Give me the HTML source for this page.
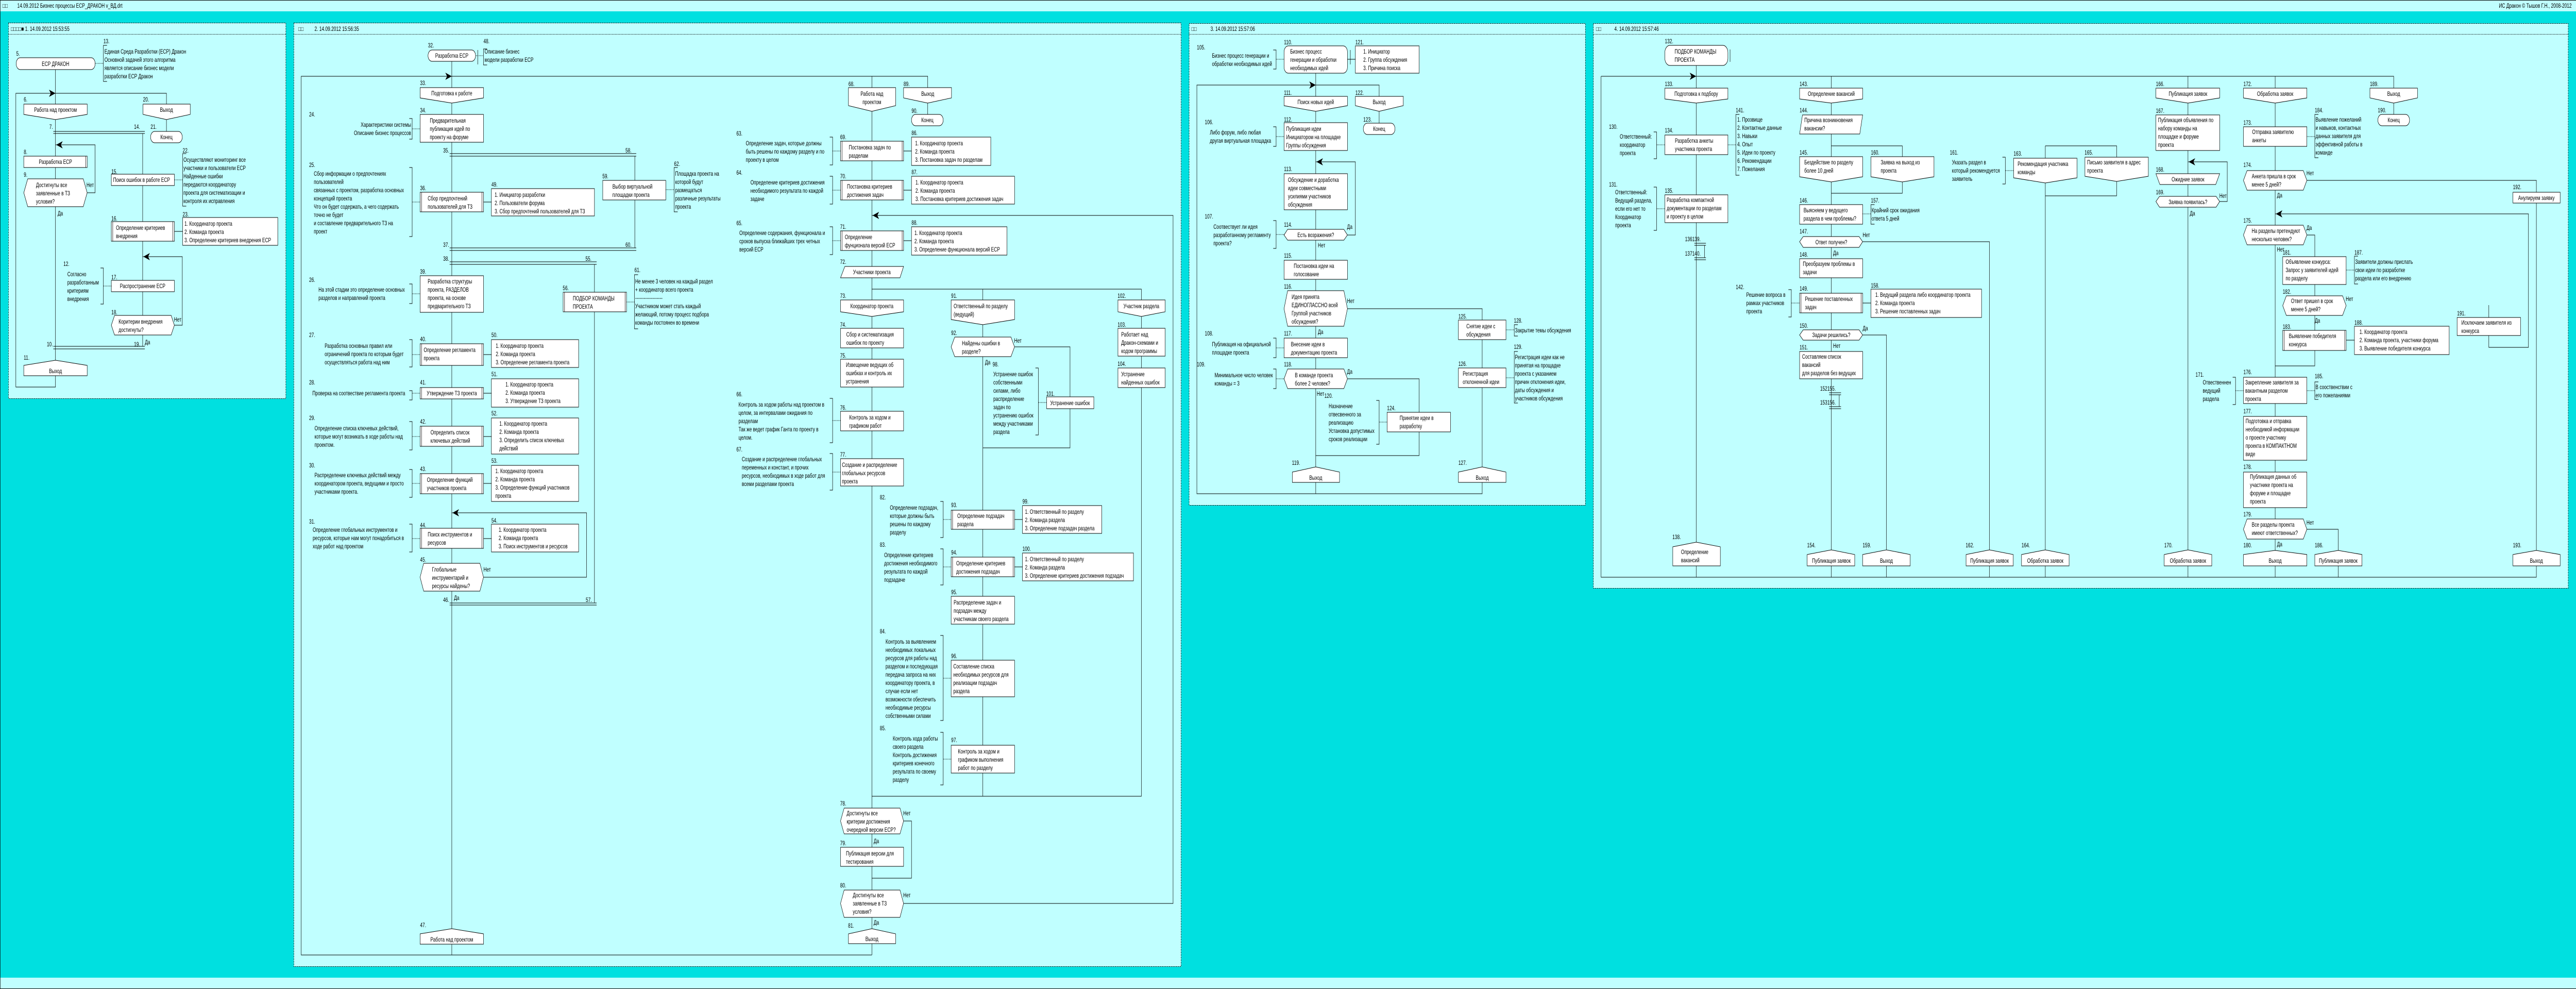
<!DOCTYPE html>
<html><head><meta charset="utf-8"><style>
html,body{margin:0;padding:0;background:#00e0e0;width:100%;height:100%;overflow:hidden;}
svg{display:block;width:100vw;height:100vh;position:absolute;left:0;top:0}
svg text{font-family:"Liberation Sans",sans-serif;font-size:12px;fill:#000}
.c{text-anchor:middle}
.r{text-anchor:end}
.s{fill:#fff;stroke:#000;stroke-width:1}
.l{fill:none;stroke:#000;stroke-width:1}
.d{fill:none;stroke:#000;stroke-width:1;stroke-dasharray:2 2}
.pn{fill:#c0ffff;stroke:#000;stroke-width:1;stroke-dasharray:3 2}
.a{fill:#000}
</style></head><body>
<svg viewBox="0 0 7150 1919" preserveAspectRatio="none" xmlns="http://www.w3.org/2000/svg">
<rect x="0" y="0" width="7150" height="1919" fill="#00e0e0"/>
<rect x="0" y="0" width="7150" height="22" fill="#c0ffff"/>
<line x1="0" y1="0.5" x2="7150" y2="0.5" stroke="#000"/>
<text x="7" y="15">□□</text><text x="48" y="15">14.09.2012  Бизнес процессы ЕСР_ДРАКОН v_ВД.drt</text>
<text x="7138" y="15" class="r">ИС Дракон © Тышов Г.Н., 2008-2012</text>
<rect x="0" y="1897" width="7150" height="22" fill="#c0ffff"/>
<line x1="0" y1="1918.5" x2="7150" y2="1918.5" stroke="#000"/>
<line x1="0.5" y1="0" x2="0.5" y2="1919" stroke="#000"/>

<!-- PANEL 1 -->
<rect x="23.5" y="44.5" width="770" height="729" class="pn"/>
<line x1="23" y1="66.5" x2="793" y2="66.5" class="d"/>
<text x="30" y="60">□□□□■ 1. 14.09.2012 15:53:55</text>
<path class="l" d="M154 135V751H44V181H462V202M462 232V255M396 259V672M242 374H264V281H154M484 631H506V498H396M148 255H402M148 259H402M148 672H402M148 677H402M484 449H507"/>
<path class="d" d="M264 123H287M484 349H507M287 555H309"/>
<path class="l" d="M297 88H287V158H297M517 298H507V400H517M279 520H287V590H279"/>
<polygon class="a" points="154,181 136,174 141,181 136,188"/>
<polygon class="a" points="156,281 174,274 169,281 174,288"/>
<polygon class="a" points="398,498 416,491 411,498 416,505"/>
<text x="45" y="108">5.</text>
<rect x="45" y="112" width="219" height="23" rx="11" class="s"/><text x="154" y="128" class="c">ЕСР ДРАКОН</text>
<text x="287" y="84">13.</text>
<text x="290" y="104">Единая Среда Разработки (ЕСР) Дракон</text><text x="290" y="120">Основной задачей этого алгоритма</text><text x="290" y="136">является описание бизнес модели</text><text x="290" y="152">разработки ЕСР Дракон</text>
<text x="66" y="197">6.</text><polygon class="s" points="66,202 242,202 242,222 154,232 66,222"/><text x="154" y="217" class="c">Работа над проектом</text>
<text x="397" y="197">20.</text><polygon class="s" points="397,202 528,202 528,222 462,232 397,222"/><text x="462" y="217" class="c">Выход</text>
<text x="137" y="250">7.</text><text x="372" y="250">14.</text><text x="418" y="250">21.</text>
<rect x="418" y="255" width="88" height="22" rx="11" class="s"/><text x="462" y="270" class="c">Конец</text>
<text x="66" y="299">8.</text><rect x="66" y="303" width="176" height="22" class="s"/><line x1="238" y1="303" x2="238" y2="325" stroke="#000"/><text x="154" y="318" class="c">Разработка ЕСР</text>
<text x="66" y="343">9.</text><polygon class="s" points="66,374 77,347 231,347 242,374 231,401 77,401"/>
<text x="100" y="363">Достигнуты все</text><text x="100" y="379">заявленные в ТЗ</text><text x="100" y="395">условия?</text>
<text x="240" y="363">Нет</text><text x="160" y="418">Да</text>
<text x="309" y="337">15.</text><rect x="309" y="338" width="175" height="22" class="s"/><text x="314" y="353">Поиск ошибок в работе ЕСР</text>
<text x="507" y="296">22.</text>
<text x="509" y="314">Осуществляют мониторинг все</text><text x="509" y="330">участники и пользователи ЕСР</text><text x="509" y="346">Найденные ошибки</text><text x="509" y="362">передаются координатору</text><text x="509" y="378">проекта для систематизации и</text><text x="509" y="394">контроля их исправления</text>
<text x="309" y="428">16.</text><rect x="309" y="430" width="175" height="38" class="s"/><path class="l" d="M313 430V468M480 430V468"/><text x="322" y="446">Определение критериев</text><text x="322" y="462">внедрения</text>
<text x="507" y="420">23.</text><rect x="507" y="422" width="264" height="54" class="s"/>
<text x="512" y="438">1. Координатор проекта</text><text x="512" y="454">2. Команда проекта</text><text x="512" y="470">3. Определение критериев внедрения ЕСР</text>
<text x="176" y="516">12.</text>
<text x="187" y="536">Согласно</text><text x="187" y="552">разработанным</text><text x="187" y="568">критериям</text><text x="187" y="584">внедрения</text>
<text x="309" y="542">17.</text><rect x="309" y="544" width="175" height="22" class="s"/><text x="396" y="559" class="c">Распространение ЕСР</text>
<text x="309" y="610">18.</text><polygon class="s" points="309,631 318,612 475,612 484,631 475,650 318,650"/>
<text x="329" y="628">Коритерии внедрения</text><text x="329" y="644">достигнуты?</text>
<text x="483" y="624">Нет</text><text x="402" y="668">Да</text>
<text x="130" y="672">10.</text><text x="372" y="672">19.</text>
<text x="66" y="698">11.</text><polygon class="s" points="66,709 154,699 242,709 242,729 66,729"/><text x="154" y="724" class="c">Выход</text>

<!-- PANEL 2 -->
<rect x="815.5" y="44.5" width="2463" height="1831" class="pn"/>
<line x1="815" y1="66.5" x2="3278" y2="66.5" class="d"/>
<text x="828" y="60">□□</text><text x="873" y="60">2. 14.09.2012 15:56:35</text>
<path class="l" d="M1254 119V1853H836V148H2575V170M2575 199V222M1248 298H1766M1248 303H1766M1762 303V481M1248 481H1766M1248 486H1766M1248 508H1656M1248 513H1656M1650 513V1170M1248 1170H1656M1248 1174H1656M1342 1120H1628V995H1254M1326 97V125"/>
<path class="l" d="M2420 148V1853M2420 561H3168V1545H2420M2728 561V1545M2816 673H2970V869H2728M2508 1753H3256V418H2420M2508 1593H2530V1704H2420M836 1853H2420"/>
<path class="l" d="M1342 392H1364M1342 688H1364M1342 763H1364M1342 847H1364M1342 938H1364M1342 1045H1364M2508 293H2530M2508 369H2530M2508 467H2530"/>
<path class="d" d="M1321 108H1342M1144 250H1166M1144 392H1166M1848 368H1871M1144 570H1166M1739 586H1761M1144 688H1166M1144 763H1166M1144 847H1166M1144 938H1166M1144 1045H1166M2311 293H2333M2311 369H2333M2311 467H2333M2882 781H2905M2311 816H2333M2311 916H2333"/>
<path class="l" d="M1352 95H1342V126H1352M1136 230H1144V270H1136M1136 325H1144V459H1136M1881 325H1871V411H1881M1136 551H1144V589H1136M1771 533H1761V638H1771M1136 659H1144V712H1136M1136 758H1144V776H1136M1136 818H1144V873H1136M1136 911H1144V965H1136M1136 1017H1144V1071H1136M2303 266H2311V320H2303M2303 342H2311V396H2303M2303 440H2311V494H2303M2874 714H2882V844H2874M2303 773H2311V859H2303M2303 880H2311V951H2303"/>
<polygon class="a" points="1254,148 1236,141 1241,148 1236,155"/>
<polygon class="a" points="1256,995 1274,988 1269,995 1274,1002"/>
<polygon class="a" points="2422,418 2440,411 2435,418 2440,425"/>
<text x="1188" y="92">32.</text><rect x="1188" y="97" width="132" height="22" rx="11" class="s"/><text x="1254" y="112" class="c">Разработка ЕСР</text>
<text x="1342" y="84">48.</text><text x="1345" y="104">Описание бизнес</text><text x="1345" y="120">модели разработки ЕСР</text>
<text x="1166" y="165">33.</text><polygon class="s" points="1166,170 1342,170 1342,190 1254,200 1166,190"/><text x="1254" y="185" class="c">Подготовка к работе</text>
<text x="1166" y="218">34.</text><rect x="1166" y="222" width="176" height="54" class="s"/><text x="1193" y="238">Предварительная</text><text x="1193" y="254">публикация идей по</text><text x="1193" y="270">проекту на форуме</text>
<text x="858" y="226">24.</text><text x="1141" y="246" class="r">Характеристики системы</text><text x="1141" y="262" class="r">Описание бизнес процессов</text>
<text x="1230" y="296">35.</text><text x="1736" y="296">58.</text>
<text x="858" y="324">25.</text>
<text x="871" y="341">Сбор информации о предпочтениях</text><text x="871" y="357">пользователей</text><text x="871" y="373">связанных с проектом, разработка основных</text><text x="871" y="389">концепций проекта</text><text x="871" y="405">Что он будет содержать, а чего содержать</text><text x="871" y="421">точно не будет</text><text x="871" y="437">и составление предварительного ТЗ на</text><text x="871" y="453">проект</text>
<text x="1166" y="369">36.</text><rect x="1166" y="373" width="176" height="38" class="s"/><path class="l" d="M1170 373V411M1338 373V411"/><text x="1187" y="389">Сбор предпочтений</text><text x="1187" y="405">пользователей для ТЗ</text>
<text x="1364" y="362">49.</text><rect x="1364" y="366" width="286" height="53" class="s"/><text x="1373" y="382">1. Инициатор разработки</text><text x="1373" y="398">2. Пользователи форума</text><text x="1373" y="414">3. Сбор предпочтений пользователей для ТЗ</text>
<text x="1672" y="346">59.</text><rect x="1673" y="350" width="175" height="38" class="s"/><text x="1700" y="366">Выбор виртуальной</text><text x="1700" y="382">площадки проекта</text>
<text x="1871" y="322">62.</text><text x="1874" y="341">Площадка проекта на</text><text x="1874" y="357">которой будут</text><text x="1874" y="373">размещаться</text><text x="1874" y="389">различные результаты</text><text x="1874" y="405">проекта</text>
<text x="1230" y="479">37.</text><text x="1736" y="479">60.</text>
<text x="1230" y="506">38.</text><text x="1625" y="506">55.</text>
<text x="858" y="547">26.</text><text x="884" y="566">На этой стадии это определение основных</text><text x="884" y="582">разделов и направлений проекта</text>
<text x="1166" y="531">39.</text><rect x="1166" y="535" width="176" height="71" class="s"/><text x="1187" y="550">Разработка структуры</text><text x="1187" y="566">проекта, РАЗДЕЛОВ</text><text x="1187" y="582">проекта, на основе</text><text x="1187" y="598">предварительного ТЗ</text>
<text x="1562" y="563">56.</text><rect x="1563" y="567" width="176" height="38" class="s"/><path class="l" d="M1567 567V605M1735 567V605"/><text x="1590" y="583">ПОДБОР КОМАНДЫ</text><text x="1590" y="599">ПРОЕКТА</text>
<text x="1761" y="528">61.</text><text x="1763" y="550">Не менее 3 человек на каждый раздел</text><text x="1763" y="566">+ координатор всего проекта</text><text x="1763" y="582">-------------------</text><text x="1763" y="598">Участником может стать каждый</text><text x="1763" y="614">желающий, потому процесс подбора</text><text x="1763" y="630">команды постоянен во времени</text>
<text x="858" y="654">27.</text><text x="901" y="675">Разработка основных правил или</text><text x="901" y="691">ограничений проекта по которым будет</text><text x="901" y="707">осуществляться работа над ним</text>
<text x="1166" y="662">40.</text><rect x="1166" y="667" width="176" height="42" class="s"/><path class="l" d="M1170 667V709M1338 667V709"/><text x="1176" y="683">Определение регламента</text><text x="1176" y="699">проекта</text>
<text x="1364" y="654">50.</text><rect x="1364" y="659" width="242" height="54" class="s"/><text x="1376" y="675">1. Координатор проекта</text><text x="1376" y="691">2. Команда проекта</text><text x="1376" y="707">3. Определение регламента проекта</text>
<text x="858" y="746">28.</text><text x="867" y="767">Проверка на соотвествие регламента проекта</text>
<text x="1166" y="746">41.</text><rect x="1166" y="752" width="176" height="22" class="s"/><path class="l" d="M1170 752V774M1338 752V774"/><text x="1254" y="767" class="c">Утверждение ТЗ проекта</text>
<text x="1364" y="730">51.</text><rect x="1364" y="735" width="242" height="55" class="s"/><text x="1403" y="750">1. Координатор проекта</text><text x="1403" y="766">2. Команда проекта</text><text x="1403" y="782">3. Утверждение ТЗ проекта</text>
<text x="858" y="815">29.</text><text x="873" y="835">Определение списка ключевых действий,</text><text x="873" y="851">которые могут возникать в ходе работы над</text><text x="873" y="867">проектом.</text>
<text x="1166" y="822">42.</text><rect x="1166" y="827" width="176" height="39" class="s"/><path class="l" d="M1170 827V866M1338 827V866"/><text x="1195" y="843">Определить список</text><text x="1195" y="859">ключевых действий</text>
<text x="1364" y="806">52.</text><rect x="1364" y="811" width="242" height="70" class="s"/><text x="1386" y="826">1. Координатор проекта</text><text x="1386" y="842">2. Команда проекта</text><text x="1386" y="858">3. Определить список ключевых</text><text x="1386" y="874">действий</text>
<text x="858" y="907">30.</text><text x="873" y="926">Распределение ключевых действий между</text><text x="873" y="942">координатором проекта, ведущими и просто</text><text x="873" y="958">участниками проекта.</text>
<text x="1166" y="914">43.</text><rect x="1166" y="919" width="176" height="39" class="s"/><path class="l" d="M1170 919V958M1338 919V958"/><text x="1185" y="935">Определение функций</text><text x="1185" y="951">участников проекта</text>
<text x="1364" y="898">53.</text><rect x="1364" y="903" width="242" height="70" class="s"/><text x="1375" y="918">1. Координатор проекта</text><text x="1375" y="934">2. Команда проекта</text><text x="1375" y="950">3. Определение функций участников</text><text x="1375" y="966">проекта</text>
<text x="858" y="1016">31.</text><text x="868" y="1032">Определение глобальных инструментов и</text><text x="868" y="1048">ресурсов, которые нам могут понадобиться в</text><text x="868" y="1064">ходе работ над проектом</text>
<text x="1166" y="1023">44.</text><rect x="1166" y="1025" width="176" height="39" class="s"/><path class="l" d="M1170 1025V1064M1338 1025V1064"/><text x="1187" y="1041">Поиск инструментов и</text><text x="1187" y="1057">ресурсов</text>
<text x="1364" y="1014">54.</text><rect x="1364" y="1017" width="242" height="54" class="s"/><text x="1384" y="1032">1. Координатор проекта</text><text x="1384" y="1048">2. Команда проекта</text><text x="1384" y="1064">3. Поиск инструментов и ресурсов</text>
<text x="1166" y="1090">45.</text><polygon class="s" points="1166,1120 1176,1093 1332,1093 1342,1120 1332,1147 1176,1147"/><text x="1199" y="1109">Глобальные</text><text x="1199" y="1125">инструментарий и</text><text x="1199" y="1141">ресурсы найдены?</text>
<text x="1342" y="1109">Нет</text><text x="1260" y="1164">Да</text>
<text x="1230" y="1168">46.</text><text x="1626" y="1168">57.</text>
<text x="1166" y="1799">47.</text><polygon class="s" points="1166,1812 1254,1802 1342,1812 1342,1832 1166,1832"/><text x="1254" y="1827" class="c">Работа над проектом</text>
<text x="2355" y="167">68.</text><polygon class="s" points="2355,170 2486,170 2486,205 2420,216 2355,205"/><text x="2420" y="186" class="c">Работа над</text><text x="2420" y="202" class="c">проектом</text>
<text x="2508" y="167">89.</text><polygon class="s" points="2508,170 2641,170 2641,190 2575,200 2508,190"/><text x="2575" y="186" class="c">Выход</text>
<text x="2530" y="219">90.</text><rect x="2530" y="222" width="88" height="22" rx="11" class="s"/><text x="2574" y="237" class="c">Конец</text>
<text x="2044" y="263">63.</text><text x="2070" y="282">Определение задач, которые должны</text><text x="2070" y="298">быть решены по каждому разделу и по</text><text x="2070" y="314">проекту в целом</text>
<text x="2332" y="270">69.</text><rect x="2333" y="274" width="175" height="38" class="s"/><path class="l" d="M2337 274V312M2504 274V312"/><text x="2356" y="290">Постановка задач по</text><text x="2356" y="306">разделам</text>
<text x="2530" y="262">86.</text><rect x="2530" y="266" width="220" height="55" class="s"/><text x="2540" y="282">1. Координатор проекта</text><text x="2540" y="298">2. Команда проекта</text><text x="2540" y="314">3. Постановка задач по разделам</text>
<text x="2044" y="339">64.</text><text x="2083" y="358">Определение критериев достижения</text><text x="2083" y="374">необходимого результата по каждой</text><text x="2083" y="390">задаче</text>
<text x="2332" y="346">70.</text><rect x="2333" y="350" width="175" height="38" class="s"/><path class="l" d="M2337 350V388M2504 350V388"/><text x="2351" y="366">Постановка критериев</text><text x="2351" y="382">достижения задач</text>
<text x="2530" y="338">87.</text><rect x="2530" y="342" width="286" height="54" class="s"/><text x="2541" y="358">1. Координатор проекта</text><text x="2541" y="374">2. Команда проекта</text><text x="2541" y="390">3. Постановка критериев достижения задач</text>
<text x="2044" y="437">65.</text><text x="2052" y="456">Определение содержания, функционала и</text><text x="2052" y="472">сроков выпуска ближайших трех четных</text><text x="2052" y="488">версий ЕСР</text>
<text x="2332" y="444">71.</text><rect x="2333" y="448" width="175" height="38" class="s"/><path class="l" d="M2337 448V486M2504 448V486"/><text x="2345" y="464">Определение</text><text x="2345" y="480">фунционала версий ЕСР</text>
<text x="2530" y="436">88.</text><rect x="2530" y="440" width="265" height="55" class="s"/><text x="2538" y="456">1. Координатор проекта</text><text x="2538" y="472">2. Команда проекта</text><text x="2538" y="488">3. Определение функционала версий ЕСР</text>
<text x="2332" y="512">72.</text><polygon class="s" points="2345,517 2508,517 2498,539 2333,539"/><text x="2420" y="532" class="c">Участники проекта</text>
<text x="2332" y="578">73.</text><polygon class="s" points="2333,582 2508,582 2508,605 2420,614 2333,605"/><text x="2420" y="598" class="c">Координатор проекта</text>
<text x="2640" y="578">91.</text><polygon class="s" points="2640,582 2816,582 2816,620 2728,630 2640,620"/><text x="2647" y="598">Ответственный по разделу</text><text x="2647" y="614">(ведущий)</text>
<text x="3102" y="578">102.</text><polygon class="s" points="3103,582 3234,582 3234,605 3168,614 3103,605"/><text x="3168" y="598" class="c">Участник раздела</text>
<text x="2332" y="634">74.</text><rect x="2333" y="637" width="175" height="38" class="s"/><text x="2349" y="653">Сбор и систематизация</text><text x="2349" y="669">ошибок по проекту</text>
<text x="2332" y="694">75.</text><rect x="2333" y="697" width="175" height="54" class="s"/><text x="2348" y="712">Извещение ведущих об</text><text x="2348" y="728">ошибках и контроль их</text><text x="2348" y="744">устранения</text>
<text x="2640" y="650">92.</text><polygon class="s" points="2640,673 2650,654 2806,654 2816,673 2806,692 2650,692"/><text x="2670" y="670">Найдены ошибки в</text><text x="2670" y="686">разделе?</text>
<text x="2815" y="665">Нет</text><text x="2734" y="707">Да</text>
<text x="2755" y="711">98.</text><text x="2757" y="730">Устранение ошибок</text><text x="2757" y="746">собственными</text><text x="2757" y="762">силами, либо</text><text x="2757" y="778">распределение</text><text x="2757" y="794">задач по</text><text x="2757" y="810">устранению ошибок</text><text x="2757" y="826">между участниками</text><text x="2757" y="842">раздела</text>
<text x="2904" y="768">101.</text><rect x="2905" y="770" width="131" height="23" class="s"/><text x="2970" y="786" class="c">Устранение ошибок</text>
<text x="3102" y="634">103.</text><rect x="3103" y="637" width="131" height="54" class="s"/><text x="3112" y="653">Работает над</text><text x="3112" y="669">Дракон-схемами и</text><text x="3112" y="685">кодом программы</text>
<text x="3102" y="710">104.</text><rect x="3103" y="714" width="131" height="38" class="s"/><text x="3112" y="730">Устранение</text><text x="3112" y="746">найденных ошибок</text>
<text x="2044" y="769">66.</text><text x="2050" y="789">Контроль за ходом работы над проектом в</text><text x="2050" y="805">целом, за интервалами ожидания по</text><text x="2050" y="821">разделам</text><text x="2050" y="837">Так же ведет график Ганта по проекту в</text><text x="2050" y="853">целом.</text>
<text x="2332" y="795">76.</text><rect x="2333" y="798" width="175" height="38" class="s"/><text x="2357" y="814">Контроль за ходом и</text><text x="2357" y="830">графиком работ</text>
<text x="2044" y="876">67.</text><text x="2059" y="895">Создание и распределение глобальных</text><text x="2059" y="911">переменных и констант, и прочих</text><text x="2059" y="927">ресурсов, необходимых в ходе работ для</text><text x="2059" y="943">всеми разделами проекта</text>
<text x="2332" y="886">77.</text><rect x="2333" y="890" width="175" height="53" class="s"/><text x="2337" y="906">Создание и распределение</text><text x="2337" y="922">глобальных ресурсов</text><text x="2337" y="938">проекта</text>
<path class="l" d="M2610 973H2618V1043H2610M2610 1065H2618V1135H2610M2610 1233H2618V1398H2610M2610 1421H2618V1523H2610"/>
<path class="d" d="M2618 1008H2640M2618 1100H2640M2618 1316H2640M2618 1473H2640"/>
<path class="l" d="M2816 1008H2838M2816 1100H2838"/>
<text x="2442" y="969">82.</text><text x="2470" y="989">Определение подзадач,</text><text x="2470" y="1005">которые должны быть</text><text x="2470" y="1021">решены по каждому</text><text x="2470" y="1037">разделу</text>
<text x="2640" y="984">93.</text><rect x="2640" y="990" width="176" height="37" class="s"/><path class="l" d="M2644 990V1027M2812 990V1027"/><text x="2657" y="1005">Определение подзадач</text><text x="2657" y="1021">раздела</text>
<text x="2838" y="977">99.</text><rect x="2838" y="981" width="220" height="54" class="s"/><text x="2845" y="997">1. Ответственный по разделу</text><text x="2845" y="1013">2. Команда раздела</text><text x="2845" y="1029">3. Определение подзадач раздела</text>
<text x="2442" y="1061">83.</text><text x="2454" y="1081">Определение критериев</text><text x="2454" y="1097">достижения необходимого</text><text x="2454" y="1113">результата по каждой</text><text x="2454" y="1129">подзадаче</text>
<text x="2640" y="1076">94.</text><rect x="2640" y="1081" width="176" height="38" class="s"/><path class="l" d="M2644 1081V1119M2812 1081V1119"/><text x="2654" y="1097">Определение критериев</text><text x="2654" y="1113">достижения подзадач</text>
<text x="2838" y="1069">100.</text><rect x="2838" y="1073" width="308" height="54" class="s"/><text x="2845" y="1089">1. Ответственный по разделу</text><text x="2845" y="1105">2. Команда раздела</text><text x="2845" y="1121">3. Определение критериев достижения подзадач</text>
<text x="2640" y="1153">95.</text><rect x="2640" y="1157" width="176" height="54" class="s"/><text x="2647" y="1173">Распределение задач и</text><text x="2647" y="1189">подзадач между</text><text x="2647" y="1205">участникам своего раздела</text>
<text x="2442" y="1229">84.</text><text x="2458" y="1249">Контроль за выявлением</text><text x="2458" y="1265">необходимых локальных</text><text x="2458" y="1281">ресурсов для работы над</text><text x="2458" y="1297">разделом и последующая</text><text x="2458" y="1313">передача запроса на них</text><text x="2458" y="1329">координатору проекта, в</text><text x="2458" y="1345">случае если нет</text><text x="2458" y="1361">возможности обеспечить</text><text x="2458" y="1377">необходимые ресурсы</text><text x="2458" y="1393">собственными силами</text>
<text x="2640" y="1277">96.</text><rect x="2640" y="1281" width="176" height="71" class="s"/><text x="2646" y="1297">Составление списка</text><text x="2646" y="1313">необходимых ресурсов для</text><text x="2646" y="1329">реализации подзадач</text><text x="2646" y="1345">раздела</text>
<text x="2442" y="1417">85.</text><text x="2478" y="1437">Контроль хода работы</text><text x="2478" y="1453">своего раздела</text><text x="2478" y="1469">Контроль достижения</text><text x="2478" y="1485">критериев конечного</text><text x="2478" y="1501">результата по своему</text><text x="2478" y="1517">разделу</text>
<text x="2640" y="1440">97.</text><rect x="2640" y="1446" width="176" height="54" class="s"/><text x="2659" y="1462">Контроль за ходом и</text><text x="2659" y="1478">графиком выполнения</text><text x="2659" y="1494">работ по разделу</text>
<text x="2332" y="1563">78.</text><polygon class="s" points="2333,1593 2343,1568 2498,1568 2508,1593 2498,1618 2343,1618"/><text x="2350" y="1582">Достигнуты все</text><text x="2350" y="1598">критерии достижения</text><text x="2350" y="1614">очередной версии ЕСР?</text>
<text x="2507" y="1582">Нет</text><text x="2425" y="1636">Да</text>
<text x="2332" y="1640">79.</text><rect x="2333" y="1644" width="175" height="37" class="s"/><text x="2348" y="1660">Публикация версии для</text><text x="2348" y="1676">тестирования</text>
<text x="2332" y="1722">80.</text><polygon class="s" points="2333,1753 2343,1727 2498,1727 2508,1753 2498,1780 2343,1780"/><text x="2367" y="1741">Достигнуты все</text><text x="2367" y="1757">заявленные в ТЗ</text><text x="2367" y="1773">условия?</text>
<text x="2507" y="1741">Нет</text><text x="2425" y="1794">Да</text>
<text x="2354" y="1800">81.</text><polygon class="s" points="2355,1812 2420,1802 2486,1812 2486,1831 2355,1831"/><text x="2420" y="1826" class="c">Выход</text>

<!-- PANEL 3 -->
<rect x="3300.5" y="45.5" width="1100" height="935" class="pn"/>
<line x1="3300" y1="66.5" x2="4400" y2="66.5" class="d"/>
<text x="3307" y="60">□□</text><text x="3360" y="60">3. 14.09.2012 15:57:06</text>
<path class="l" d="M3652 142V958H3322V165H3828V187M3828 216V239M3740 456H3762V314H3652M3740 599H4114V958H3652M3740 735H3939V884H3652M3740 115H3762M3748 97V125"/>
<path class="d" d="M3542 115H3564M3542 265H3564M3542 455H3564M4180 640H4203M3542 675H3564M4180 733H4203M3542 735H3564M3828 819H3850"/>
<path class="l" d="M3534 97H3542V134H3534M3534 246H3542V284H3534M3534 428H3542V482H3534M4213 630H4203V652H4213M3534 656H3542V694H3534M4213 682H4203V782H4213M3534 716H3542V754H3534M3820 777H3828V862H3820"/>
<polygon class="a" points="3652,165 3634,158 3639,165 3634,172"/>
<polygon class="a" points="3654,314 3672,307 3667,314 3672,321"/>
<text x="3322" y="96">105.</text><text x="3364" y="112">Бизнес процесс генерации и</text><text x="3364" y="128">обработки необходимых идей</text>
<text x="3564" y="86">110.</text><rect x="3564" y="89" width="176" height="53" rx="12" class="s"/><text x="3581" y="104">Бизнес процесс</text><text x="3581" y="120">генерации и обработки</text><text x="3581" y="136">необходимых идей</text>
<text x="3762" y="86">121.</text><rect x="3762" y="89" width="177" height="53" class="s"/><text x="3784" y="104">1. Инициатор</text><text x="3784" y="120">2. Группа обсуждения</text><text x="3784" y="136">3. Причина поиска</text>
<text x="3564" y="184">111.</text><polygon class="s" points="3564,187 3740,187 3740,205 3652,216 3564,205"/><text x="3652" y="202" class="c">Поиск новых идей</text>
<text x="3762" y="184">122.</text><polygon class="s" points="3762,187 3895,187 3895,205 3828,216 3762,205"/><text x="3828" y="202" class="c">Выход</text>
<text x="3784" y="236">123.</text><rect x="3784" y="239" width="88" height="22" rx="11" class="s"/><text x="3828" y="254" class="c">Конец</text>
<text x="3344" y="241">106.</text><text x="3358" y="261">Либо форум, либо любая</text><text x="3358" y="277">другая виртуальная площадка</text>
<text x="3564" y="236">112.</text><rect x="3564" y="238" width="176" height="54" class="s"/><text x="3570" y="254">Публикация идеи</text><text x="3570" y="270">Инициатором на площадке</text><text x="3570" y="286">Группы обсуждения</text>
<text x="3564" y="332">113.</text><rect x="3564" y="337" width="176" height="70" class="s"/><text x="3575" y="353">Обсуждение и доработка</text><text x="3575" y="369">идеи совместными</text><text x="3575" y="385">усилиями участников</text><text x="3575" y="401">обсуждения</text>
<text x="3344" y="424">107.</text><text x="3368" y="444">Соотвествует ли идея</text><text x="3368" y="460">разработанному регламенту</text><text x="3368" y="476">проекта?</text>
<text x="3564" y="440">114.</text><polygon class="s" points="3564,456 3574,445 3730,445 3740,456 3730,466 3574,466"/><text x="3652" y="460" class="c">Есть возражения?</text>
<text x="3739" y="444">Да</text><text x="3658" y="480">Нет</text>
<text x="3564" y="500">115.</text><rect x="3564" y="505" width="176" height="37" class="s"/><text x="3591" y="520">Постановка идеи на</text><text x="3591" y="536">голосование</text>
<text x="3564" y="560">116.</text><polygon class="s" points="3564,599 3574,564 3730,564 3740,599 3730,633 3574,633"/><text x="3585" y="580">Идея принята</text><text x="3585" y="596">ЕДИНОГЛАССНО всей</text><text x="3585" y="612">Группой участников</text><text x="3585" y="628">обсуждения?</text>
<text x="3739" y="588">Нет</text><text x="3658" y="648">Да</text>
<text x="4048" y="618">125.</text><rect x="4048" y="621" width="132" height="38" class="s"/><text x="4070" y="637">Снятие идеи с</text><text x="4070" y="653">обсуждения</text>
<text x="4202" y="626">128.</text><text x="4205" y="645">Закрытие темы обсуждения</text>
<text x="3344" y="651">108.</text><text x="3364" y="672">Публикация на официальной</text><text x="3364" y="688">площадке проекта</text>
<text x="3564" y="651">117.</text><rect x="3564" y="656" width="176" height="38" class="s"/><text x="3583" y="672">Внесение идеи в</text><text x="3583" y="688">документацию проекта</text>
<text x="4202" y="677">129.</text><text x="4205" y="697">Регистрация идеи как не</text><text x="4205" y="713">принятая на прощадке</text><text x="4205" y="729">проекта с указанием</text><text x="4205" y="745">причин отклонения идеи,</text><text x="4205" y="761">даты обсуждения и</text><text x="4205" y="777">участников обсуждения</text>
<text x="4048" y="710">126.</text><rect x="4048" y="714" width="132" height="38" class="s"/><text x="4060" y="729">Регистрация</text><text x="4060" y="745">отклоненной идеи</text>
<text x="3322" y="711">109.</text><text x="3371" y="732">Минимальное число человек</text><text x="3371" y="748">команды = 3</text>
<text x="3564" y="711">118.</text><polygon class="s" points="3564,735 3574,716 3730,716 3740,735 3730,754 3574,754"/><text x="3594" y="732">В команде проекта</text><text x="3594" y="748">более 2 человек?</text>
<text x="3739" y="725">Да</text><text x="3655" y="768">Нет</text>
<text x="3676" y="772">120.</text><text x="3688" y="792">Назначение</text><text x="3688" y="808">отвесвенного за</text><text x="3688" y="824">реализацию</text><text x="3688" y="840">Установка допустимых</text><text x="3688" y="856">сроков реализации</text>
<text x="3850" y="796">124.</text><rect x="3850" y="800" width="176" height="38" class="s"/><text x="3885" y="815">Принятие идеи в</text><text x="3885" y="831">разработку</text>
<text x="3586" y="902">119.</text><polygon class="s" points="3587,916 3652,906 3718,916 3718,936 3587,936"/><text x="3652" y="931" class="c">Выход</text>
<text x="4048" y="902">127.</text><polygon class="s" points="4048,916 4114,906 4180,916 4180,936 4048,936"/><text x="4114" y="931" class="c">Выход</text>

<!-- PANEL 4 -->
<rect x="4422.5" y="45.5" width="2706" height="1096" class="pn"/>
<line x1="4422" y1="66.5" x2="7128" y2="66.5" class="d"/>
<text x="4430" y="60">□□</text><text x="4481" y="60">4. 14.09.2012 15:57:46</text>
<path class="l" d="M4708 127V1120M4444 148H6644V171M6644 200V222M4444 148V1120H7040V350H6403M5083 148V1120M5083 283H5280V304M5280 353V375H5083M5170 469H5522V1120M5170 650H5236V1120M5677 283V1120M5677 283H5875V305M5875 352V380H5677M6073 148V1120M6161 391H6182V314H6073M6315 148V1120M6403 456H6425V710H6315M6403 1027H6490V1120M6908 592V674H7018V415H6315M4703 472H4735M4703 476H4735M4731 476V500M4703 500H4735M4703 504H4735M5077 762H5110M5077 766H5110M5105 766V789M5077 789H5110M5077 793H5110M5170 588H5193M6512 660H6535M4802 96V120"/>
<path class="d" d="M4599 281H4621M4796 281H4818M4599 405H4621M4972 588H4995M5170 415H5193M5566 331H5589M6205 758H6227M6403 265H6425M6512 524H6535M6403 758H6425"/>
<path class="l" d="M4828 222H4818V340H4828M4590 256H4598V308H4590M4590 363H4598V447H4590M5203 397H5193V435H5203M4964 562H4972V615H4964M5558 305H5566V357H5558M6197 732H6205V785H6197M6435 222H6425V306H6435M6545 497H6535V551H6545M6435 741H6425V775H6435"/>
<polygon class="a" points="4708,148 4690,141 4695,148 4690,155"/>
<polygon class="a" points="6075,314 6093,307 6088,314 6093,321"/>
<polygon class="a" points="6317,415 6335,408 6330,415 6335,422"/>
<text x="4621" y="84">132.</text><rect x="4621" y="88" width="175" height="39" rx="14" class="s"/><text x="4648" y="104">ПОДБОР КОМАНДЫ</text><text x="4648" y="120">ПРОЕКТА</text>
<text x="4621" y="167">133.</text><polygon class="s" points="4621,171 4796,171 4796,192 4708,200 4621,192"/><text x="4708" y="186" class="c">Подготовка к подбору</text>
<text x="4995" y="167">143.</text><polygon class="s" points="4995,171 5170,171 5170,192 5083,200 4995,192"/><text x="5083" y="186" class="c">Определение вакансий</text>
<text x="4818" y="218">141.</text><text x="4822" y="236">1. Прозвище</text><text x="4822" y="252">2. Контактные данные</text><text x="4822" y="268">3. Навыки</text><text x="4822" y="284">4. Опыт</text><text x="4822" y="300">5. Идеи по проекту</text><text x="4822" y="316">6. Рекомендации</text><text x="4822" y="332">7. Пожелания</text>
<text x="4995" y="218">144.</text><polygon class="s" points="5003,223 5170,223 5162,260 4995,260"/><text x="5008" y="237">Причина возникновения</text><text x="5008" y="253">вакансии?</text>
<text x="4466" y="250">130.</text><text x="4496" y="269">Ответственный:</text><text x="4496" y="285">координатор</text><text x="4496" y="301">проекта</text>
<text x="4621" y="257">134.</text><rect x="4621" y="262" width="175" height="38" class="s"/><text x="4649" y="277">Разработка анкеты</text><text x="4649" y="293">участника проекта</text>
<text x="4995" y="300">145.</text><polygon class="s" points="4995,304 5170,304 5170,343 5083,353 4995,343"/><text x="5008" y="319">Бездействие по разделу</text><text x="5008" y="335">более 10 дней</text>
<text x="5193" y="300">160.</text><polygon class="s" points="5193,304 5368,304 5368,343 5280,353 5193,343"/><text x="5220" y="319">Заявка на выход из</text><text x="5220" y="335">проекта</text>
<text x="4466" y="362">131.</text><text x="4483" y="377">Ответственный:</text><text x="4483" y="393">Ведущий раздела,</text><text x="4483" y="409">если его нет то</text><text x="4483" y="425">Координатор</text><text x="4483" y="441">проекта</text>
<text x="4621" y="374">135.</text><rect x="4621" y="378" width="175" height="54" class="s"/><text x="4626" y="392">Разработка компактной</text><text x="4626" y="408">документации по разделам</text><text x="4626" y="424">и проекту в целом</text>
<text x="4677" y="468">136139.</text><text x="4677" y="496">137140.</text>
<text x="4995" y="393">146.</text><rect x="4995" y="397" width="175" height="38" class="s"/><text x="5006" y="412">Выясняем у ведущего</text><text x="5006" y="428">раздела в чем проблемы?</text>
<text x="5193" y="393">157.</text><text x="5195" y="412">Крайний срок ожидания</text><text x="5195" y="428">ответа 5 дней</text>
<text x="4995" y="453">147.</text><polygon class="s" points="4995,469 5005,459 5160,459 5170,469 5160,480 5005,480"/><text x="5083" y="474" class="c">Ответ получен?</text>
<text x="5170" y="460">Нет</text><text x="5088" y="495">Да</text>
<text x="4995" y="498">148.</text><rect x="4995" y="502" width="175" height="37" class="s"/><text x="5004" y="516">Преобразуем проблемы в</text><text x="5004" y="532">задачи</text>
<text x="4818" y="561">142.</text><text x="4847" y="576">Решение вопроса в</text><text x="4847" y="592">рамках участников</text><text x="4847" y="608">проекта</text>
<text x="4995" y="564">149.</text><rect x="4995" y="569" width="175" height="38" class="s"/><path class="l" d="M4999 569V607M5166 569V607"/><text x="5010" y="584">Решение поставленных</text><text x="5010" y="600">задач</text>
<text x="5193" y="558">158.</text><rect x="5193" y="561" width="307" height="55" class="s"/><text x="5205" y="576">1. Ведущий раздела либо координатор проекта</text><text x="5205" y="592">2. Команда проекта</text><text x="5205" y="608">3. Решение поставленных задач</text>
<text x="4995" y="636">150.</text><polygon class="s" points="4995,650 5005,640 5160,640 5170,650 5160,660 5005,660"/><text x="5083" y="654" class="c">Задачи решились?</text>
<text x="5170" y="641">Да</text><text x="5088" y="675">Нет</text>
<text x="4995" y="678">151.</text><rect x="4995" y="682" width="175" height="53" class="s"/><text x="5002" y="696">Составляем список</text><text x="5002" y="712">вакансий</text><text x="5002" y="728">для разделов без ведущих</text>
<text x="5052" y="758">152155.</text><text x="5052" y="785">153156.</text>
<text x="4642" y="1046">138.</text><polygon class="s" points="4643,1061 4708,1052 4775,1061 4775,1098 4643,1098"/><text x="4666" y="1075">Определение</text><text x="4666" y="1091">вакансий</text>
<text x="5016" y="1062">154.</text><polygon class="s" points="5016,1076 5083,1067 5148,1076 5148,1098 5016,1098"/><text x="5083" y="1092" class="c">Публикация заявок</text>
<text x="5170" y="1062">159.</text><polygon class="s" points="5170,1076 5236,1067 5302,1076 5302,1098 5170,1098"/><text x="5236" y="1092" class="c">Выход</text>
<text x="5412" y="300">161.</text><text x="5418" y="319">Указать раздел в</text><text x="5418" y="335">который рекомендуется</text><text x="5418" y="351">заявитель</text>
<text x="5589" y="302">163.</text><polygon class="s" points="5589,307 5765,307 5765,345 5677,355 5589,345"/><text x="5600" y="322">Рекомендация участника</text><text x="5600" y="338">команды</text>
<text x="5786" y="300">165.</text><polygon class="s" points="5787,305 5963,305 5963,342 5875,352 5787,342"/><text x="5793" y="319">Письмо заявителя в адрес</text><text x="5793" y="335">проекта</text>
<text x="5456" y="1062">162.</text><polygon class="s" points="5457,1076 5522,1067 5588,1076 5588,1098 5457,1098"/><text x="5522" y="1092" class="c">Публикация заявок</text>
<text x="5611" y="1062">164.</text><polygon class="s" points="5611,1076 5677,1067 5743,1076 5743,1098 5611,1098"/><text x="5677" y="1092" class="c">Обработка заявок</text>
<text x="5984" y="167">166.</text><polygon class="s" points="5984,171 6161,171 6161,190 6073,200 5984,190"/><text x="6073" y="186" class="c">Публикация заявок</text>
<text x="5984" y="219">167.</text><rect x="5984" y="223" width="177" height="69" class="s"/><text x="5990" y="237">Публикация объявления по</text><text x="5990" y="253">набору команды на</text><text x="5990" y="269">площадке и форуме</text><text x="5990" y="285">проекта</text>
<text x="5984" y="333">168.</text><polygon class="s" points="5984,337 6161,337 6150,358 5995,358"/><text x="6073" y="352" class="c">Ожидние заявок</text>
<text x="5984" y="377">169.</text><polygon class="s" points="5984,391 5994,381 6151,381 6161,391 6151,402 5994,402"/><text x="6073" y="396" class="c">Заявка появилась?</text>
<text x="6160" y="384">Нет</text><text x="6078" y="418">Да</text>
<text x="6094" y="731">171.</text><text x="6114" y="746">Отвественнен</text><text x="6114" y="762">ведущий</text><text x="6114" y="778">раздела</text>
<text x="6007" y="1062">170.</text><polygon class="s" points="6007,1076 6073,1067 6139,1076 6139,1098 6007,1098"/><text x="6073" y="1092" class="c">Обработка заявок</text>
<text x="6227" y="167">172.</text><polygon class="s" points="6227,171 6403,171 6403,190 6315,200 6227,190"/><text x="6315" y="186" class="c">Обработка заявок</text>
<text x="6227" y="242">173.</text><rect x="6227" y="246" width="176" height="38" class="s"/><text x="6251" y="260">Отправка заявителю</text><text x="6251" y="276">анкеты</text>
<text x="6425" y="218">184.</text><text x="6427" y="236">Выявление пожеланий</text><text x="6427" y="252">и навыков, контактных</text><text x="6427" y="268">данных заявителя для</text><text x="6427" y="284">эффективной работы в</text><text x="6427" y="300">команде</text>
<text x="6227" y="324">174.</text><polygon class="s" points="6227,350 6237,331 6393,331 6403,350 6393,369 6237,369"/><text x="6250" y="346">Анкета пришла в срок</text><text x="6250" y="362">менее 5 дней?</text>
<text x="6402" y="340">Нет</text><text x="6320" y="383">Да</text>
<text x="6975" y="367">192.</text><rect x="6975" y="373" width="131" height="21" class="s"/><text x="7040" y="388" class="c">Анулируем заявку</text>
<text x="6227" y="432">175.</text><polygon class="s" points="6227,456 6237,437 6393,437 6403,456 6393,475 6237,475"/><text x="6250" y="452">На разделы претендуют</text><text x="6250" y="468">несколько человек?</text>
<text x="6402" y="446">Да</text><text x="6320" y="488">Нет</text>
<text x="6336" y="494">181.</text><rect x="6336" y="498" width="176" height="54" class="s"/><text x="6344" y="512">Объявление конкурса:</text><text x="6344" y="528">Запрос у заявителей идей</text><text x="6344" y="544">по разделу</text>
<text x="6535" y="494">187.</text><text x="6537" y="512">Заявители должны прислать</text><text x="6537" y="528">свои идеи по разработке</text><text x="6537" y="544">раздела или его внедрению</text>
<text x="6336" y="570">182.</text><polygon class="s" points="6336,593 6346,574 6502,574 6512,593 6502,612 6346,612"/><text x="6359" y="588">Ответ пришел в срок</text><text x="6359" y="604">менее 5 дней?</text>
<text x="6511" y="584">Нет</text><text x="6425" y="626">Да</text>
<text x="6336" y="638">183.</text><rect x="6336" y="641" width="176" height="39" class="s"/><path class="l" d="M6340 641V680M6508 641V680"/><text x="6353" y="656">Выявление победителя</text><text x="6353" y="672">конкурса</text>
<text x="6535" y="630">188.</text><rect x="6535" y="633" width="263" height="55" class="s"/><text x="6549" y="648">1. Координатор проекта</text><text x="6549" y="664">2. Команда проекта, участники форума</text><text x="6549" y="680">3. Выявление победителя конкурса</text>
<text x="6820" y="612">191.</text><rect x="6820" y="616" width="176" height="35" class="s"/><text x="6832" y="630">Исключаем заявителя из</text><text x="6832" y="646">конкурса</text>
<text x="6227" y="726">176.</text><rect x="6227" y="732" width="176" height="51" class="s"/><text x="6232" y="746">Закрепление заявителя за</text><text x="6232" y="762">вакантным разделом</text><text x="6232" y="778">проекта</text>
<text x="6425" y="734">185.</text><text x="6427" y="755">В сооственствии с</text><text x="6427" y="771">его пожеланиями</text>
<text x="6227" y="802">177.</text><rect x="6227" y="808" width="176" height="85" class="s"/><text x="6233" y="821">Подготовка и отправка</text><text x="6233" y="837">необходимой информации</text><text x="6233" y="853">о проекте участнику</text><text x="6233" y="869">проекта в КОМПАКТНОМ</text><text x="6233" y="885">виде</text>
<text x="6227" y="910">178.</text><rect x="6227" y="916" width="176" height="69" class="s"/><text x="6245" y="929">Публикация данных об</text><text x="6245" y="945">участнике проекта на</text><text x="6245" y="961">форуме и площадке</text><text x="6245" y="977">проекта</text>
<text x="6227" y="1002">179.</text><polygon class="s" points="6227,1027 6237,1007 6393,1007 6403,1027 6393,1046 6237,1046"/><text x="6250" y="1022">Все разделы проекта</text><text x="6250" y="1038">имеют ответственных?</text>
<text x="6402" y="1018">Нет</text><text x="6320" y="1060">Да</text>
<text x="6227" y="1062">180.</text><polygon class="s" points="6227,1076 6315,1068 6403,1076 6403,1098 6227,1098"/><text x="6315" y="1092" class="c">Выход</text>
<text x="6425" y="1062">186.</text><polygon class="s" points="6425,1076 6490,1068 6556,1076 6556,1098 6425,1098"/><text x="6490" y="1092" class="c">Публикация заявок</text>
<text x="6578" y="167">189.</text><polygon class="s" points="6578,171 6710,171 6710,190 6644,200 6578,190"/><text x="6644" y="186" class="c">Выход</text>
<text x="6600" y="218">190.</text><rect x="6600" y="222" width="88" height="22" rx="11" class="s"/><text x="6644" y="237" class="c">Конец</text>
<text x="6975" y="1062">193.</text><polygon class="s" points="6975,1076 7040,1068 7106,1076 7106,1098 6975,1098"/><text x="7040" y="1092" class="c">Выход</text>
</svg>
</body></html>
